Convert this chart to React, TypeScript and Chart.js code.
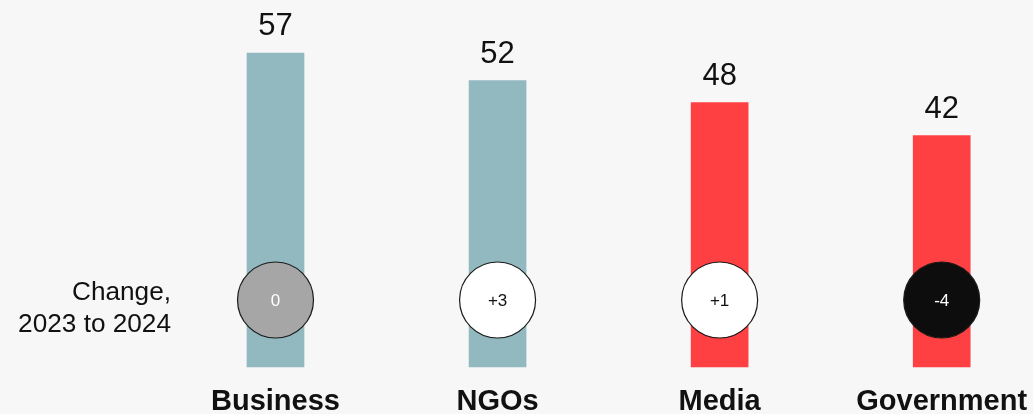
import React, { useEffect, useRef } from "react";
import { Chart, registerables } from "chart.js";

Chart.register(...registerables);

const categories = ["Business", "NGOs", "Media", "Government"];
const trustValues = [57, 52, 48, 42];
const changeValues = [0, 3, 1, -4];
const barColors = ["#93b9c0", "#93b9c0", "#ff4042", "#ff4042"];
const changeTitle = ["Change,", "2023 to 2024"];

const FONT = "'Liberation Sans', Arial, sans-serif";

const fmtChange = (v: number) => (v > 0 ? `+${v}` : `${v}`);

const overlayPlugin = {
  id: "overlay",
  afterDatasetsDraw(chart: any) {
    const ctx = chart.ctx;
    const xs = chart.scales.x;
    const ys = chart.scales.y;
    const area = chart.chartArea;
    ctx.save();
    // value labels above bars
    ctx.font = `31px ${FONT}`;
    ctx.fillStyle = "#111";
    ctx.textAlign = "center";
    ctx.textBaseline = "alphabetic";
    trustValues.forEach((v, i) => {
      const x = xs.getPixelForValue(i);
      const y = ys.getPixelForValue(v);
      ctx.fillText(String(v), x, y - 18);
    });
    // change circles
    const cy = area.bottom - 67;
    changeValues.forEach((v, i) => {
      const x = xs.getPixelForValue(i);
      const fill = v === 0 ? "#a6a6a6" : v > 0 ? "#ffffff" : "#0d0d0d";
      const txt = v === 0 || v < 0 ? "#ffffff" : "#111111";
      ctx.beginPath();
      ctx.arc(x, cy, 38, 0, Math.PI * 2);
      ctx.fillStyle = fill;
      ctx.fill();
      ctx.lineWidth = 1.2;
      ctx.strokeStyle = "#1a1a1a";
      ctx.stroke();
      ctx.fillStyle = txt;
      ctx.font = `17px ${FONT}`;
      ctx.textAlign = "center";
      ctx.textBaseline = "middle";
      ctx.fillText(fmtChange(v), x, cy + 1);
    });
    // change title
    ctx.fillStyle = "#111";
    ctx.font = `26.2px ${FONT}`;
    ctx.textAlign = "right";
    ctx.textBaseline = "alphabetic";
    const tx = xs.getPixelForValue(0) - 104.5;
    ctx.fillText(changeTitle[0], tx, cy);
    ctx.fillText(changeTitle[1], tx, cy + 31.5);
    ctx.restore();
  },
};

export default function App() {
  const ref = useRef<HTMLCanvasElement>(null);
  useEffect(() => {
    if (!ref.current) return;
    const chart = new Chart(ref.current, {
      type: "bar",
      data: {
        labels: categories,
        datasets: [
          {
            data: trustValues,
            backgroundColor: barColors,
            barThickness: 57,
            clip: false as any,
          },
        ],
      },
      options: {
        animation: false,
        responsive: false,
        maintainAspectRatio: false,
        layout: { padding: { left: 275.5, right: 91.3, top: 36.5, bottom: 0 } },
        plugins: {
          legend: { display: false },
          tooltip: { enabled: false },
        },
        scales: {
          x: {
            offset: false,
            grid: { display: false, drawTicks: false },
            border: { display: false },
            afterFit: (s: any) => {
              s.paddingLeft = 0;
              s.paddingRight = 0;
              s.height = 47;
            },
            ticks: {
              color: "#111",
              font: { family: FONT, size: 29, weight: "bold", lineHeight: 1 },
              padding: 20,
              maxRotation: 0,
              minRotation: 0,
              autoSkip: false,
            },
          },
          y: {
            display: false,
            min: 0,
            max: 60,
          },
        },
      },
      plugins: [overlayPlugin],
    });
    return () => chart.destroy();
  }, []);
  return (
    <div
      style={{
        position: "fixed",
        left: 0,
        top: 0,
        width: 1033,
        height: 414,
        background: "#f7f7f7",
      }}
    >
      <canvas ref={ref} width={1033} height={414} style={{ display: "block" }} />
    </div>
  );
}
